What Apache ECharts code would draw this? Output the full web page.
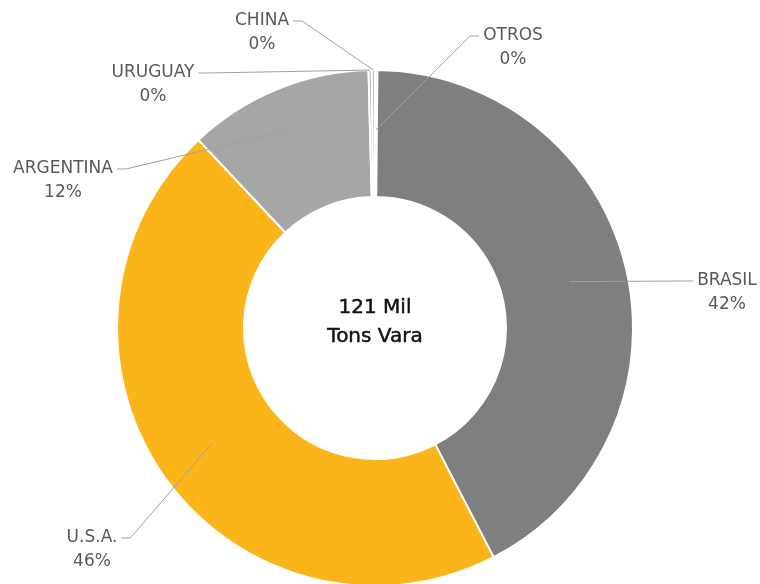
<!DOCTYPE html>
<html>
<head>
<meta charset="utf-8">
<script src="https://cdn.jsdelivr.net/npm/echarts@6/dist/echarts.min.js"></script>
<style>
  html, body { margin: 0; padding: 0; background: #fff; }
  #chart { width: 760px; height: 584px; }
</style>
</head>
<body>
<div id="chart"></div>
<script>
// paises y participacion (%)
var paises = ['OTROS', 'BRASIL', 'U.S.A.', 'ARGENTINA', 'URUGUAY', 'CHINA'];
var valores = [0.15, 42.25, 45.6, 11.6, 0.2, 0.2];
var colores = ['#c8c8c8', '#7f7f7f', '#fbb51a', '#a6a6a6', '#b4b4b4', '#bdbdbd'];
var totalTexto = '121 Mil\nTons Vara';

// layout: centro del bloque de texto y radio donde arranca la guia
var posEtiquetas = [
  [513, 48], [727, 293], [92, 550], [63, 181], [153, 85], [262, 33]
];
var radioGuia = [198, 200, 200, 215, 258, 258];
var centro = [375, 328];
var radios = [131, 258];
var altoLinea = 24;

var datos = [];
for (var i = 0; i < paises.length; i++) {
  datos.push({ name: paises[i], value: valores[i], itemStyle: { color: colores[i] } });
}

var chart = echarts.init(document.getElementById('chart'));
chart.setOption({
  animation: false,
  graphic: [{
    type: 'text',
    x: centro[0],
    y: 322,
    style: {
      text: totalTexto,
      fill: '#111',
      font: '20px "DejaVu Sans", sans-serif',
      lineHeight: 29,
      align: 'center',
      verticalAlign: 'middle',
      stroke: '#111',
      lineWidth: 0.5
    }
  }],
  series: [{
    // anillo de colores
    type: 'pie',
    z: 2,
    center: centro,
    radius: radios,
    startAngle: 90,
    clockwise: true,
    silent: true,
    itemStyle: { borderColor: '#fff', borderWidth: 2 },
    label: { show: false },
    labelLine: { show: false },
    data: datos
  }, {
    // misma serie transparente, solo etiquetas y guias (quedan por encima)
    type: 'pie',
    z: 3,
    center: centro,
    radius: radios,
    startAngle: 90,
    clockwise: true,
    silent: true,
    avoidLabelOverlap: false,
    itemStyle: { color: 'rgba(0,0,0,0)', borderWidth: 0 },
    label: {
      show: true,
      position: 'outside',
      color: '#595959',
      fontFamily: '"DejaVu Sans", sans-serif',
      fontSize: 17,
      lineHeight: altoLinea,
      align: 'center',
      formatter: function (p) { return p.name + '\n' + Math.round(p.percent) + '%'; }
    },
    labelLine: {
      show: true,
      length: 15,
      length2: 12,
      lineStyle: { color: '#a0a0a0', width: 1 }
    },
    labelLayout: function (params) {
      var i = params.dataIndex;
      var p = posEtiquetas[i];
      var a = params.labelLinePoints[0];
      // mover el inicio de la guia hacia dentro del anillo
      var k = radioGuia[i] / radios[1];
      var ax = centro[0] + (a[0] - centro[0]) * k;
      var ay = centro[1] + (a[1] - centro[1]) * k;
      var w = params.labelRect.width;
      var yName = p[1] - altoLinea / 2;
      var ex, bx;
      if (ax > p[0]) { ex = p[0] + w / 2 + 4; bx = ex + 9; }
      else { ex = p[0] - w / 2 - 4; bx = ex - 9; }
      return {
        x: p[0], y: p[1], align: 'center', verticalAlign: 'middle',
        labelLinePoints: [[ax, ay], [bx, yName], [ex, yName]]
      };
    },
    data: datos.map(function (d) { return { name: d.name, value: d.value }; })
  }]
});
</script>
</body>
</html>
